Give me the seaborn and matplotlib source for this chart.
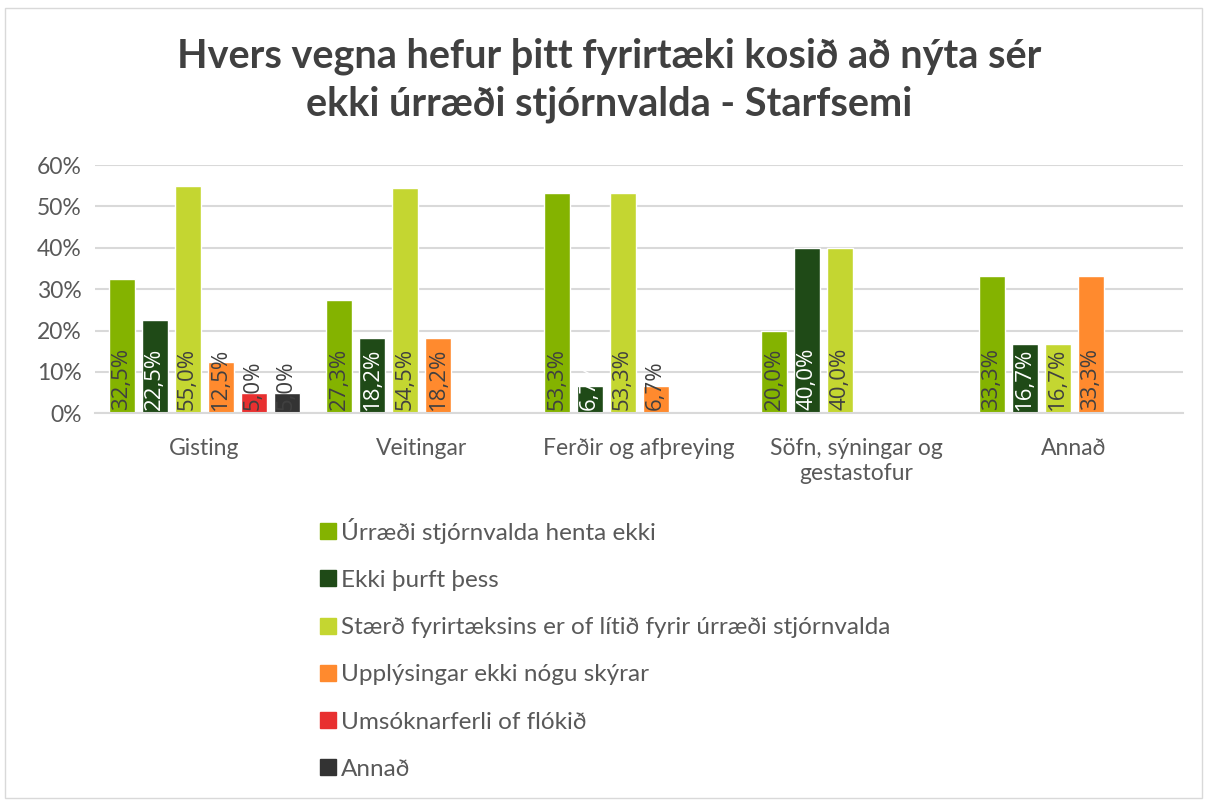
import numpy as np
import pandas as pd
import matplotlib.pyplot as plt
import seaborn as sns
from matplotlib.patches import Rectangle
from matplotlib.lines import Line2D
from matplotlib.ticker import FuncFormatter

categories = ["Gisting", "Veitingar", "Ferðir og afþreying", "Söfn, sýningar og\ngestastofur", "Annað"]
reasons = [
    "Úrræði stjórnvalda henta ekki",
    "Ekki þurft þess",
    "Stærð fyrirtæksins er of lítið fyrir úrræði stjórnvalda",
    "Upplýsingar ekki nógu skýrar",
    "Umsóknarferli of flókið",
    "Annað",
]
# percent per category, one list per reason (None = no bar)
hentar_ekki = [32.5, 27.3, 53.3, 20.0, 33.3]
ekki_thurft = [22.5, 18.2, 6.7, 40.0, 16.7]
staerd = [55.0, 54.5, 53.3, 40.0, 16.7]
upplysingar = [12.5, 18.2, 6.7, None, 33.3]
umsokn = [5.0, None, None, None, None]
annad = [5.0, None, None, None, None]
colors = ["#84B300", "#1F4A17", "#C4D631", "#FF8A2E", "#E83030", "#333333"]

series = [hentar_ekki, ekki_thurft, staerd, upplysingar, umsokn, annad]
rows = []
for reason, vals in zip(reasons, series):
    for cat, v in zip(categories, vals):
        if v is not None:
            rows.append({"cat": cat, "reason": reason, "pct": v})
df = pd.DataFrame(rows)

sns.set_style("white")
plt.rcParams["font.family"] = ["Lato", "DejaVu Sans"]

fig = plt.figure(figsize=(12.07, 8.01), dpi=100)
fig.patches.append(Rectangle((0.004, 0.004), 0.992, 0.986, transform=fig.transFigure,
                             fill=False, edgecolor="#D9D9D9", linewidth=1))
ax = fig.add_axes([0.079, 0.484, 0.901, 0.31])

sns.barplot(data=df, x="cat", y="pct", hue="reason", order=categories, hue_order=reasons,
            palette=colors, width=0.91, gap=0.21, errorbar=None, ax=ax, legend=False,
            saturation=1)

# value labels, written upwards from the base of each bar
for i, cont in enumerate(ax.containers):
    txt_color = "white" if i == 1 else "#404040"
    for bar in cont:
        h = bar.get_height()
        if np.isnan(h):
            continue
        ax.text(bar.get_x() + bar.get_width() / 2, 0.8, f"{h:.1f}".replace(".", ",") + "%",
                rotation=90, ha="center", va="bottom", fontsize=16,
                color=txt_color, family=["Open Sans", "DejaVu Sans"])

ax.set_ylim(0, 60)
ax.set_xlim(-0.5, 4.5)
ax.set_yticks(range(0, 61, 10))
ax.yaxis.set_major_formatter(FuncFormatter(lambda v, p: f"{v:.0f}%"))
ax.grid(axis="y", color="#D9D9D9", linewidth=1.5)
ax.set_axisbelow(True)
for s in ["top", "right", "left"]:
    ax.spines[s].set_visible(False)
ax.spines["bottom"].set_color("#D9D9D9")
ax.spines["bottom"].set_linewidth(1.5)
ax.tick_params(axis="both", length=0, labelsize=16.5, labelcolor="#595959")
ax.tick_params(axis="x", pad=18)
ax.tick_params(axis="y", pad=10)
ax.set_xlabel("")
ax.set_ylabel("")

fig.text(0.505, 0.9, "Hvers vegna hefur þitt fyrirtæki kosið að nýta sér\nekki úrræði stjórnvalda - Starfsemi",
         ha="center", va="center", fontsize=28.5, fontweight="bold", color="#404040", linespacing=1.35)

handles = [Line2D([], [], marker="s", linestyle="", markersize=11, color=c) for c in colors]
fig.legend(handles, reasons, loc="upper left", bbox_to_anchor=(0.255, 0.366), frameon=False,
           fontsize=17.5, labelcolor="#595959", labelspacing=1.08, handletextpad=0.05,
           handlelength=0.9, borderaxespad=0)

fig.savefig("out.png", dpi=100)
